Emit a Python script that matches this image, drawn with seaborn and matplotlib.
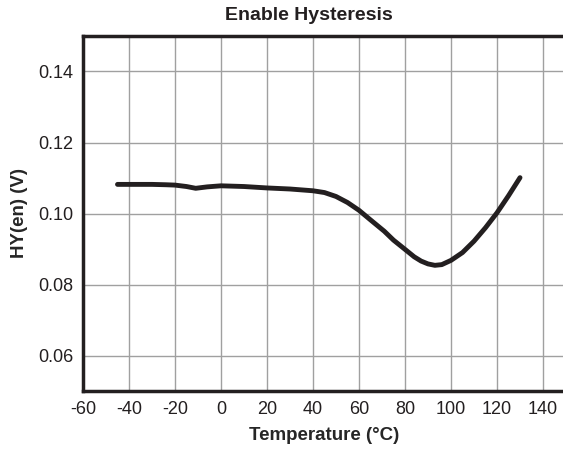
import seaborn as sns
import matplotlib.pyplot as plt

# values
temperature = [-45, -40, -30, -24, -20, -15, -11, -6, 0, 10, 20, 30, 40, 45, 50, 55,
               60, 65, 71, 75, 80, 84, 87, 90, 93, 96, 100, 105, 110, 115, 120, 125, 130]
hysteresis = [0.1082, 0.1082, 0.1082, 0.1081, 0.1080, 0.1076, 0.1071, 0.1075, 0.1078,
              0.1076, 0.1072, 0.1069, 0.1064, 0.1059, 0.1048, 0.1031,
              0.1009, 0.0982, 0.0950, 0.0925, 0.0899, 0.0878, 0.0866, 0.0858, 0.0854,
              0.0856, 0.0868, 0.0890, 0.0922, 0.0960, 0.1002, 0.1050, 0.1101]

x_ticks = [-60, -40, -20, 0, 20, 40, 60, 80, 100, 120, 140]
y_ticks = [0.06, 0.08, 0.10, 0.12, 0.14]

sns.set_style("white")
plt.rcParams['font.family'] = ['Liberation Sans', 'DejaVu Sans']
plt.rcParams['text.color'] = '#231f20'

fig = plt.figure(figsize=(5.63, 4.51), dpi=100)
ax = fig.add_axes([83 / 563, 60 / 451, 483 / 563, 355 / 451])

sns.lineplot(x=temperature, y=hysteresis, color='#231f20', linewidth=3.5, ax=ax, zorder=3,
             solid_joinstyle='round', solid_capstyle='round')

ax.set_xlim(-60, 150)
ax.set_ylim(0.05, 0.15)
ax.set_xticks(x_ticks)
ax.set_yticks(y_ticks)
ax.set_xticklabels([str(t) for t in x_ticks])
ax.set_yticklabels([f"{v:.2f}" for v in y_ticks])
ax.tick_params(axis='both', labelsize=13, length=3, width=1, color='#231f20',
               labelcolor='#231f20', pad=4)

ax.grid(True, color='#a0a0a0', linewidth=1)
ax.set_axisbelow(True)
for side in ['left', 'bottom', 'top']:
    ax.spines[side].set_visible(True)
    ax.spines[side].set_color('#231f20')
    ax.spines[side].set_linewidth(2.5)
ax.spines['right'].set_visible(False)

ax.set_xlabel("Temperature (°C)", fontsize=13.5, fontweight='bold', labelpad=7)
ax.set_ylabel("HY(en) (V)", fontsize=13.5, fontweight='bold', labelpad=7)
fig.text(309 / 563, 1 - 15 / 451, "Enable Hysteresis", fontsize=14, fontweight='bold',
         ha='center', va='center')

fig.savefig("out.png", dpi=100)
